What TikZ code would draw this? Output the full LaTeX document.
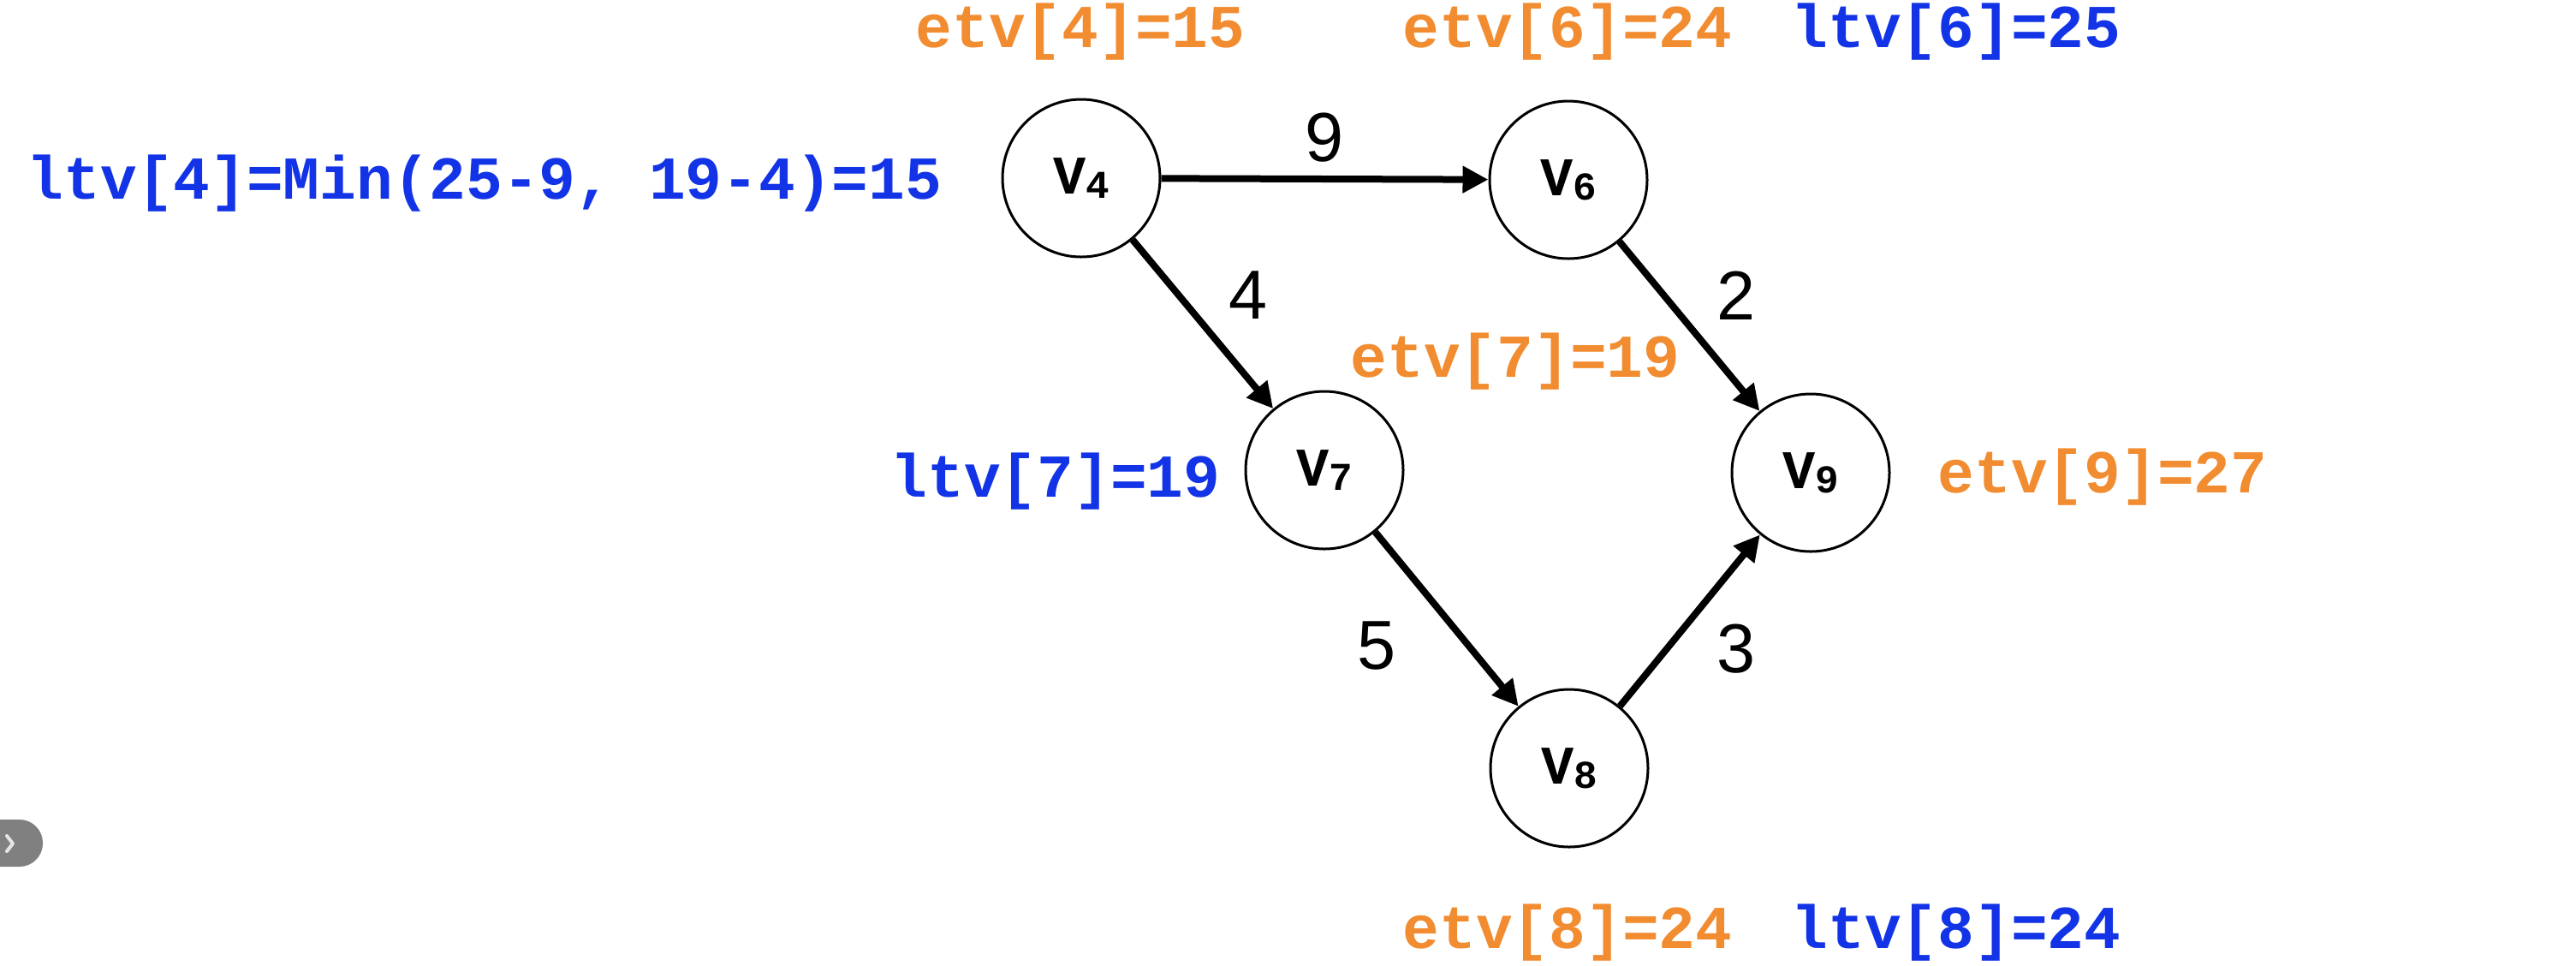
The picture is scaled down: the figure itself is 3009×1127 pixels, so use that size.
\documentclass[tikz,border=0pt]{standalone}
\usepackage{fontspec}
\setmainfont{Liberation Sans}
\newfontfamily\monob{Liberation Mono}
\usetikzlibrary{arrows.meta}
\definecolor{etvorange}{RGB}{242,140,48}
\definecolor{ltvblue}{RGB}{18,52,230}
\definecolor{tabgrey}{RGB}{128,128,128}
\newcommand\vfont{\monob\bfseries\fontsize{15.9}{18}\selectfont}
\newcommand\lblfont{\monob\bfseries\fontsize{17.8}{20}\selectfont}
\newcommand\edgefont{\fontsize{20.25}{22}\selectfont}
\newcommand\vsub[1]{V\raisebox{-1.25pt}{\fontsize{11.5}{12}\selectfont #1}}
\begin{document}
\begin{tikzpicture}[x=0.25pt,y=-0.25pt,
  vert/.style={circle,draw,line width=0.75pt,minimum size=46pt,inner sep=0pt,font=\vfont},
  edge/.style={line width=2pt,-{Triangle[length=7.5pt,width=7.5pt]}},
  elab/.style={font=\edgefont,inner sep=0pt},
  etv/.style={font=\lblfont,text=etvorange,anchor=base,inner sep=0pt},
  ltv/.style={font=\lblfont,text=ltvblue,anchor=base,inner sep=0pt}]
\fill[white] (0,0) rectangle (3009,1127);
\useasboundingbox (0,0) rectangle (3009,1127);
% grey tab
\fill[tabgrey,rounded corners=6.8pt] (-60,957) rectangle (50,1012);
\draw[white!80!tabgrey,line width=1pt,line cap=round,line join=round] (8,976) -- (15,985) -- (8,994);
% vertices
\node[vert] (v4) at (1263,208) {\vsub{4}};
\node[vert] (v6) at (1832,210) {\vsub{6}};
\node[vert] (v7) at (1547,549) {\vsub{7}};
\node[vert] (v9) at (2115,552) {\vsub{9}};
\node[vert] (v8) at (1833,897) {\vsub{8}};
% edges
\draw[edge] (v4) -- (v6);
\draw[edge] (v4) -- (v7);
\draw[edge] (v6) -- (v9);
\draw[edge] (v7) -- (v8);
\draw[edge] (v8) -- (v9);
% edge weights
\node[elab] (w9) at (1547,161) {9};
\node[elab] (w4) at (1458,345) {4};
\node[elab] (w2) at (2028,345) {2};
\node[elab] (w5) at (1608,754) {5};
\node[elab] (w3) at (2028,758) {3};
% time labels
\node[etv] (e4) at (1262,55) {etv[4]=15};
\node[etv] (e6) at (1831,55) {etv[6]=24};
\node[ltv] (l6) at (2285,55) {ltv[6]=25};
\node[ltv] (l4) at (566,232) {ltv[4]=Min(25-9, 19-4)=15};
\node[etv] (e7) at (1770,440) {etv[7]=19};
\node[ltv] (l7) at (1233,580) {ltv[7]=19};
\node[etv] (e9) at (2456,575) {etv[9]=27};
\node[etv] (e8) at (1831,1107) {etv[8]=24};
\node[ltv] (l8) at (2285,1107) {ltv[8]=24};
\end{tikzpicture}
\end{document}
